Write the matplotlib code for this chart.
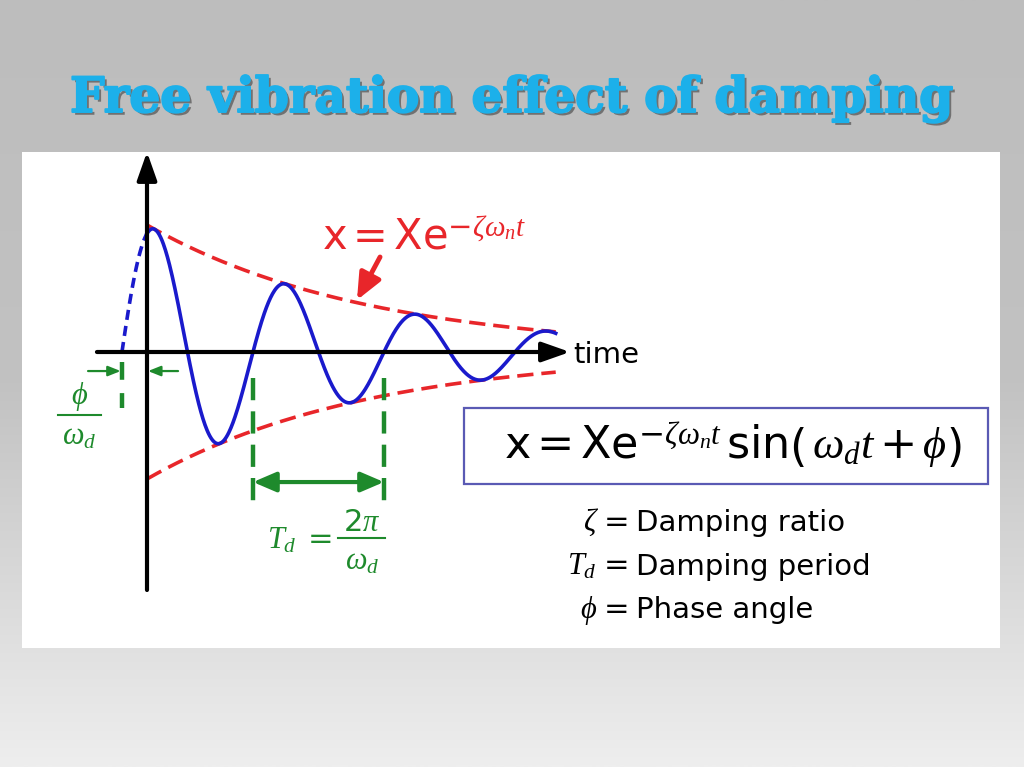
import numpy as np
import matplotlib.pyplot as plt
import matplotlib.patheffects as pe
from matplotlib.patches import Rectangle
from matplotlib.colors import LinearSegmentedColormap

plt.rcParams['mathtext.fontset'] = 'custom'
plt.rcParams['mathtext.rm'] = 'DejaVu Sans'
plt.rcParams['mathtext.it'] = 'Liberation Serif:italic'
plt.rcParams['mathtext.bf'] = 'DejaVu Sans:bold'

# curve parameters
# (amplitude 1 = envelope height at t=0, 1 time unit = one damped period)
X_amp = 1.0
zeta_wn = 0.59
omega_d = 2 * np.pi
phi = 1.2
t_end = 3.12

def_symbols = [r'$\zeta\,=$', r'$T_d\,=$', r'$\phi\,=$']
def_labels = ['Damping ratio', 'Damping period', 'Phase angle']

blue = '#1a1acc'
red = '#e8262a'
green = '#1e8a2c'
title_col = '#1cb0ea'

W, H = 1024, 767
fig = plt.figure(figsize=(W / 100, H / 100), dpi=100)

# slide background + white picture panel
bg = fig.add_axes([0, 0, 1, 1])
grad = np.linspace(0, 1, 256)[:, None]
cmap = LinearSegmentedColormap.from_list('bg', ['#bdbdbd', '#c2c2c2', '#eeeeee'])
bg.imshow(grad, cmap=cmap, aspect='auto', extent=[0, 1, 0, 1])
bg.add_patch(Rectangle((22 / W, 1 - 648 / H), (1000 - 22) / W, (648 - 152) / H,
                       transform=bg.transAxes, fc='white', ec='none'))
bg.set_xlim(0, 1)
bg.set_ylim(0, 1)
bg.axis('off')

fig.text(0.5, 1 - 112 / H, 'Free vibration effect of damping', ha='center', va='baseline',
         family='DejaVu Serif', weight='heavy', size=35, color=title_col,
         path_effects=[pe.SimplePatchShadow(offset=(2, -2), shadow_rgbFace='#333333', alpha=0.55),
                       pe.Stroke(linewidth=1.4, foreground=title_col), pe.Normal()])

# main drawing axes, t=0 at the vertical axis, x=0 at the time axis
ax = fig.add_axes([0, 0, 1, 1])
ax.patch.set_alpha(0)
ax.axis('off')
ax.set_xlim(-147 / 131, (W - 147) / 131)
ax.set_ylim((352 - H) / 127, 352 / 127)

t_pre = np.linspace(-phi / omega_d, 0, 40)
t_main = np.linspace(0, t_end, 600)
x_pre = X_amp * np.exp(-zeta_wn * t_pre) * np.sin(omega_d * t_pre + phi)
x_main = X_amp * np.exp(-zeta_wn * t_main) * np.sin(omega_d * t_main + phi)
env = X_amp * np.exp(-zeta_wn * t_main)

# axes with arrows
ax.annotate('', xy=(0, 1.575), xytext=(0, -1.874),
            arrowprops=dict(arrowstyle='-|>,head_length=0.85,head_width=0.3', lw=3, color='k',
                            mutation_scale=20, shrinkA=0, shrinkB=0))
ax.annotate('', xy=(3.229, 0), xytext=(-0.382, 0),
            arrowprops=dict(arrowstyle='-|>,head_length=0.85,head_width=0.3', lw=3, color='k',
                            mutation_scale=20, shrinkA=0, shrinkB=0))
ax.text(3.252, -0.02, 'time', size=21, va='center', ha='left')

# envelope and response
ax.plot(t_main, env, color=red, lw=2.6, ls=(0, (4.5, 2.2)))
ax.plot(t_main, -env, color=red, lw=2.6, ls=(0, (4.5, 2.2)))
ax.plot(t_main, x_main, color=blue, lw=2.6)
ax.plot(t_pre, x_pre, color=blue, lw=2.6, ls=(0, (2.8, 1.7)))

ax.text(1.336, 0.811, r'$\mathrm{x} = \mathrm{Xe}^{-\zeta\omega_n t}$', color=red, size=30, va='baseline')
ax.annotate('', xy=(1.603, 0.409), xytext=(1.779, 0.748),
            arrowprops=dict(arrowstyle='-|>,head_length=0.8,head_width=0.35', lw=3.5, color=red,
                            mutation_scale=20, shrinkA=0, shrinkB=0))

# boxed equation
ax.add_patch(Rectangle((2.420, -1.039), 4.0, 0.598, fc='white', ec='#5a5ab4', lw=1.6))
ax.text(4.47, -0.74, r'$\mathrm{x} = \mathrm{Xe}^{-\zeta\omega_n t}\,\mathrm{sin}\left(\,\omega_d t + \phi\right)$',
        size=32, ha='center', va='center')

# definitions
for i, (sym, lab) in enumerate(zip(def_symbols, def_labels)):
    yb = -1.409 - 0.343 * i
    ax.text(3.672, yb, sym, size=22, ha='right', va='baseline')
    ax.text(3.733, yb, lab, size=21, ha='left', va='baseline')

# phase shift marker
t_phi = -phi / omega_d
ax.plot([t_phi, t_phi], [-0.079, -0.441], color=green, lw=3.2, ls=(0, (4, 3)))
ax.annotate('', xy=(t_phi - 0.01, -0.150), xytext=(-0.450, -0.150),
            arrowprops=dict(arrowstyle='-|>,head_length=0.5,head_width=0.2', lw=1.6, color=green,
                            mutation_scale=15, shrinkA=0, shrinkB=0))
ax.annotate('', xy=(0.008, -0.150), xytext=(0.237, -0.150),
            arrowprops=dict(arrowstyle='-|>,head_length=0.5,head_width=0.2', lw=1.6, color=green,
                            mutation_scale=15, shrinkA=0, shrinkB=0))
ax.text(-0.515, -0.354, r'$\phi$', color=green, size=22, ha='center', va='center')
ax.plot([-0.679, -0.351], [-0.496, -0.496], color=green, lw=1.5)
ax.text(-0.515, -0.669, r'$\omega_d$', color=green, size=22, ha='center', va='center')

# damped period marker between two upward zero crossings
t1 = (2 * np.pi - phi) / omega_d
t2 = t1 + 2 * np.pi / omega_d
for tt in (t1, t2):
    ax.plot([tt, tt], [-0.205, -1.25], color=green, lw=3.2, ls=(0, (5, 2.5)))
ax.annotate('', xy=(t2, -1.024), xytext=(t1, -1.024),
            arrowprops=dict(arrowstyle='<|-|>,head_length=0.7,head_width=0.3', lw=3, color=green,
                            mutation_scale=20, shrinkA=0, shrinkB=0))
ax.text(1.412, -1.48, r'$T_d\ =$', color=green, size=22, ha='right', va='center')
ax.text(1.641, -1.346, r'$2\pi$', color=green, size=22, ha='center', va='center')
ax.plot([1.458, 1.817], [-1.465, -1.465], color=green, lw=1.5)
ax.text(1.641, -1.646, r'$\omega_d$', color=green, size=22, ha='center', va='center')

fig.savefig('out.png', dpi=100)
